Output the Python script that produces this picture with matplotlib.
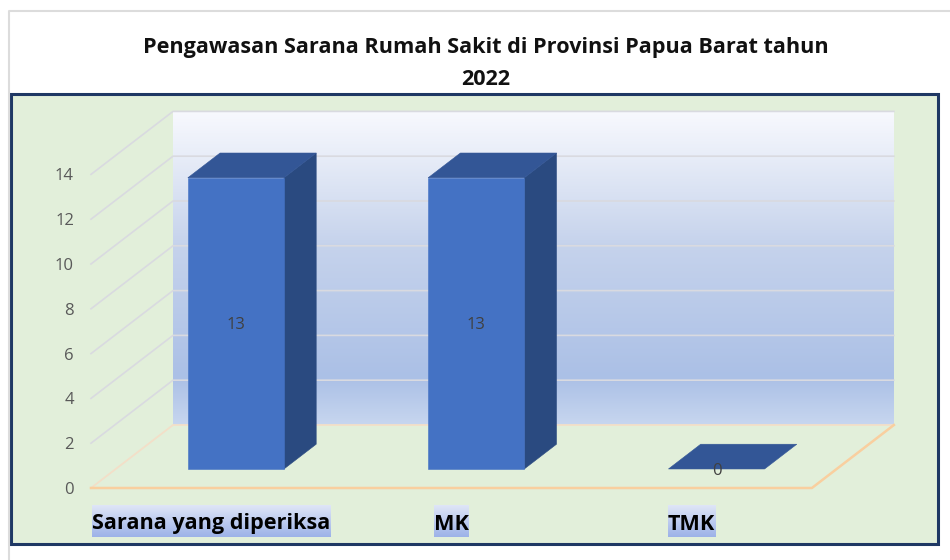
import numpy as np
import matplotlib
matplotlib.use("Agg")
import matplotlib.pyplot as plt
from matplotlib.colors import LinearSegmentedColormap
from matplotlib.patches import Rectangle

categories = ["Sarana yang diperiksa", "MK", "TMK"]
values = [13, 13, 0]
y_ticks = [0, 2, 4, 6, 8, 10, 12, 14]
title = "Pengawasan Sarana Rumah Sakit di Provinsi Papua Barat tahun\n2022"

plt.rcParams["font.family"] = ["Open Sans", "DejaVu Sans"]

# skala piksel dari sumbu depan
W, H = 950, 560
x0_px, y0_px = 91, 488
x_unit, y_unit = 240.3, 22.4
depth_x, depth_y = 82 / x_unit, 63 / y_unit
bar_w = 0.4
bar_d0, bar_d1 = 0.302, 0.695


def proj(x, y, d=0):
    return x + d * depth_x, y + d * depth_y


def face(ax, pts, color, z=3):
    xs, ys = zip(*pts)
    ax.fill(xs, ys, fc=color, ec=color, lw=0.4, zorder=z)


fig = plt.figure(figsize=(W / 100, H / 100), dpi=100, facecolor="white")

# bingkai luar dan panel
bg = fig.add_axes([0, 0, 1, 1], zorder=0)
bg.set_xlim(0, W)
bg.set_ylim(H, 0)
bg.axis("off")
bg.plot([9, 9, W + 5], [H + 5, 11, 11], color="#dcdcdc", lw=1.5)
bg.add_patch(Rectangle((11, 94), 927, 450, fc="#e2efda", ec="#1f3864", lw=2.2))

ax = fig.add_axes([0, 0, 1, 1], zorder=1)
ax.patch.set_alpha(0)
ax.axis("off")

# dinding belakang
wall_cmap = LinearSegmentedColormap.from_list(
    "wall",
    [(0, "#f8f9fe"), (0.14, "#e8edf8"), (0.42, "#c6d3ec"), (0.85, "#abc0e6"), (1, "#c7d6ef")],
)
wx0, wy0 = proj(0, 0, 1)
wx1, wy1 = proj(3, y_ticks[-1], 1)
ax.imshow(np.linspace(0, 1, 256).reshape(-1, 1), cmap=wall_cmap, aspect="auto",
          extent=(wx0, wx1, wy0, wy1), vmin=0, vmax=1, zorder=1)

# garis kisi
for t in y_ticks[1:]:
    xa, ya = proj(0, t, 0)
    xb, yb = proj(0, t, 1)
    xc, yc = proj(3, t, 1)
    ax.plot([xa, xb, xc], [ya, yb, yc], color="#d9dae0", lw=1.2, zorder=2)

xa, ya = proj(0, 0, 0)
xb, yb = proj(0, 0, 1)
xc, yc = proj(3, 0, 1)
xd, yd = proj(3, 0, 0)
ax.plot([xa, xb, xc], [ya, yb, yc], color="#f3dfc8", lw=1.3, zorder=2)
ax.plot([xa, xd, xc], [ya, yd, yc], color="#f9cf9f", lw=1.8, zorder=2)

# batang 3D
for i, v in enumerate(values):
    left = i + 0.5 - bar_w / 2
    right = i + 0.5 + bar_w / 2
    fl = proj(left, 0, bar_d0)
    fr = proj(right, 0, bar_d0)
    tl = proj(left, v, bar_d0)
    tr = proj(right, v, bar_d0)
    bl = proj(left, v, bar_d1)
    br = proj(right, v, bar_d1)
    base_r = proj(right, 0, bar_d1)
    if v > 0:
        face(ax, [fr, base_r, br, tr], "#2a4a80")
        face(ax, [fl, fr, tr, tl], "#4472c4", z=4)
    face(ax, [tl, tr, br, bl], "#335696")
    cx, cy = proj(i + 0.5, v / 2, bar_d0)
    ax.text(cx, cy, str(v), ha="center", va="center_baseline", fontsize=12,
            color="#404040", zorder=5)

# label sumbu y
for t in y_ticks:
    ax.text(-17 / x_unit, t, str(t), ha="right", va="center_baseline", fontsize=12,
            color="#595959", zorder=5)

ax.set_xlim(-x0_px / x_unit, (W - x0_px) / x_unit)
ax.set_ylim((y0_px - H) / y_unit, y0_px / y_unit)

# label kategori dengan sorotan gradien
hl_cmap = LinearSegmentedColormap.from_list("hl", ["#dfe6f7", "#9db2e8"])
fig.canvas.draw()
inv = ax.transData.inverted()
for i, c in enumerate(categories):
    lab_y = (y0_px - 524) / y_unit
    txt = ax.text(i + 0.5, lab_y, c, ha="center", va="center", fontsize=15.6,
                  fontweight="bold", color="black", zorder=6)
    bb = txt.get_window_extent(fig.canvas.get_renderer())
    (ex0, _), (ex1, _) = inv.transform([(bb.x0, 0), (bb.x1, 0)])
    ax.imshow(np.linspace(0, 1, 64).reshape(-1, 1), cmap=hl_cmap, aspect="auto", zorder=5,
              extent=(ex0, ex1, (y0_px - 537) / y_unit, (y0_px - 505) / y_unit))

ax.set_xlim(-x0_px / x_unit, (W - x0_px) / x_unit)
ax.set_ylim((y0_px - H) / y_unit, y0_px / y_unit)

ax.text(0.511, 1 - 63.5 / H, title, transform=ax.transAxes, ha="center", va="center",
        fontsize=15.6, fontweight="bold", color="#111111", linespacing=1.65, zorder=6)

fig.savefig("out.png", dpi=100)
